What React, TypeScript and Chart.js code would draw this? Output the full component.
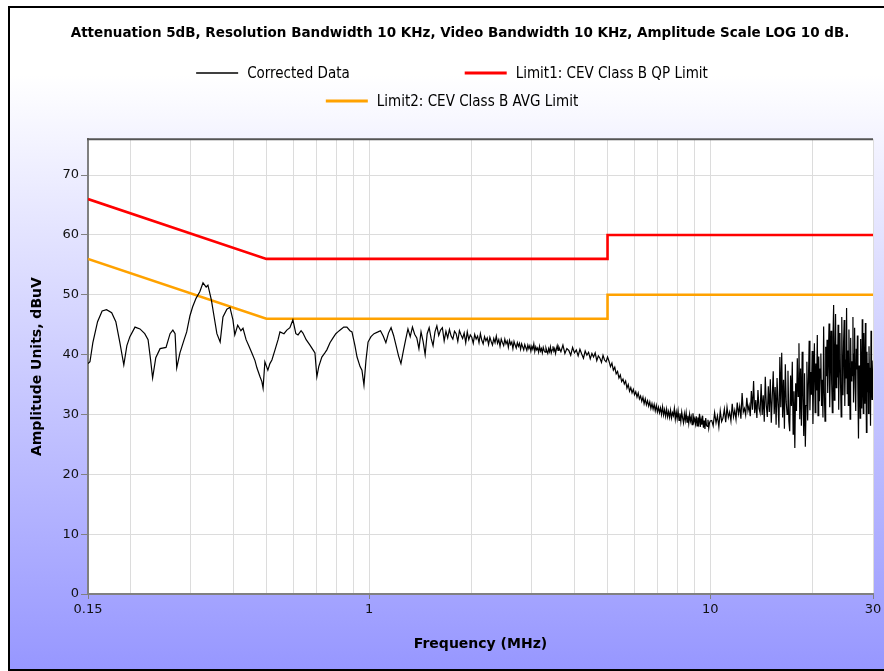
import React, { useEffect, useRef } from 'react';
import { Chart, registerables } from 'chart.js';

Chart.register(...registerables);

const titleText =
  'Attenuation 5dB, Resolution Bandwidth 10 KHz, Video Bandwidth 10 KHz, Amplitude Scale LOG 10 dB.';
const xAxisTitle = 'Frequency (MHz)';
const yAxisTitle = 'Amplitude Units, dBuV';
const seriesNames = ['Corrected Data', 'Limit1: CEV Class B QP Limit', 'Limit2: CEV Class B AVG Limit'];

const xGridMHz = [0.15, 0.2, 0.3, 0.4, 0.5, 0.6, 0.7, 0.8, 0.9, 1, 2, 3, 4, 5, 6, 7, 8, 9, 10, 20, 30];
const xLabelMHz = [0.15, 1, 10, 30];
const yMin = 0;
const yMax = 76;
const yStep = 10;

// Corrected data, low band 0.15 .. 1.06 MHz
const lowFreqMHz = [
  0.15, 0.152, 0.155, 0.16, 0.165, 0.17, 0.176, 0.181, 0.186, 0.191,
  0.195, 0.199, 0.206, 0.213, 0.22, 0.225, 0.229, 0.232, 0.237, 0.244,
  0.254, 0.261, 0.266, 0.27, 0.273, 0.279, 0.287, 0.292, 0.2985, 0.304,
  0.311, 0.319, 0.326, 0.333, 0.337, 0.345, 0.351, 0.358, 0.366, 0.373,
  0.383, 0.391, 0.399, 0.404, 0.412, 0.421, 0.427, 0.436, 0.444, 0.453,
  0.463, 0.469, 0.479, 0.485, 0.489, 0.495, 0.505, 0.512, 0.519, 0.53,
  0.541, 0.548, 0.563, 0.574, 0.586, 0.598, 0.61, 0.619, 0.632, 0.64,
  0.654, 0.671, 0.685, 0.694, 0.703, 0.712, 0.727, 0.742, 0.752, 0.768,
  0.784, 0.799, 0.81, 0.826, 0.843, 0.861, 0.879, 0.891, 0.909, 0.922,
  0.941, 0.953, 0.966, 0.979, 0.993, 1.013, 1.034, 1.062,
];
const lowDbuV = [
  38.5, 38.8, 42.0, 45.5, 47.3, 47.5, 47.0, 45.5, 42.0, 38.3,
  41.5, 43.0, 44.6, 44.3, 43.5, 42.5, 39.0, 36.1, 39.5, 41.0,
  41.2, 43.5, 44.1, 43.5, 37.8, 40.3, 42.5, 43.8, 46.5, 48.0,
  49.4, 50.5, 52.0, 51.3, 51.6, 49.1, 46.5, 43.5, 42.1, 46.3,
  47.6, 47.9, 45.8, 43.3, 44.9, 44.0, 44.4, 42.5, 41.5, 40.3,
  39.0, 37.8, 36.3, 35.5, 34.4, 38.8, 37.4, 38.5, 39.1, 40.8,
  42.5, 43.8, 43.5, 44.1, 44.5, 45.8, 43.5, 43.3, 44.0, 43.6,
  42.5, 41.6, 40.8, 40.3, 36.3, 38.0, 39.6, 40.3, 40.8, 42.0,
  42.8, 43.5, 43.8, 44.2, 44.6, 44.6, 44.0, 43.8, 41.5, 39.6,
  38.0, 37.4, 34.9, 39.0, 42.1, 43.0, 43.5, 43.8,
];

// Corrected data, sweep 1.08 .. 3.58 MHz, 0.02 MHz steps
const band2StartMHz = 1.08;
const band2StepMHz = 0.02;
const band2DbuV = [
  44.0, 43.1, 42.0, 43.6, 44.5, 43.2, 41.5, 39.8, 38.5, 40.6,
  42.5, 44.3, 43.0, 44.6, 43.4, 42.8, 41.0, 43.8, 42.2, 40.0,
  43.5, 44.5, 42.7, 41.5, 43.8, 44.8, 43.2, 44.1, 44.5, 42.3,
  43.9, 42.8, 44.2, 43.1, 42.6, 43.9, 43.5, 42.2, 44.0, 43.3,
  42.7, 43.6, 42.0, 43.8, 42.5, 43.3, 42.9, 41.9, 43.4, 42.6,
  43.1, 42.0, 43.5, 42.4, 41.8, 43.0, 42.3, 42.8, 41.7, 42.9,
  42.2, 41.6, 42.7, 42.0, 43.1, 41.9, 42.5, 41.4, 42.6, 42.0,
  41.5, 42.6, 41.8, 42.3, 41.2, 42.4, 41.7, 42.1, 41.0, 42.2,
  41.6, 41.1, 42.0, 41.4, 41.9, 40.9, 41.8, 41.3, 40.8, 41.7,
  41.2, 40.7, 41.6, 41.0, 41.5, 40.6, 41.4, 40.9, 41.8, 40.5,
  41.3, 40.8, 41.1, 40.4, 41.4, 40.6, 41.0, 40.3, 41.2, 40.7,
  40.4, 41.1, 40.6, 40.2, 41.0, 40.5, 41.3, 40.3, 40.8, 41.4,
  40.6, 41.0, 40.2, 40.9, 41.5, 40.7,
];

// Corrected data, sweep 3.6 .. 10 MHz, 0.05 MHz steps
const midStartMHz = 3.6;
const midStepMHz = 0.05;
const midDbuV = [
  41.3, 40.5, 41.6, 40.2, 41.0, 40.7, 39.9, 41.2, 40.3, 40.8,
  39.8, 40.9, 40.1, 39.4, 40.6, 39.9, 40.4, 39.3, 40.2, 39.6,
  40.3, 39.0, 39.8, 39.4, 38.7, 39.9, 39.1, 38.8, 39.6, 38.9,
  38.0, 38.6, 37.4, 37.9, 36.8, 37.2, 36.1, 36.6, 35.5, 35.9,
  35.1, 35.6, 34.4, 35.0, 33.9, 34.5, 33.6, 34.2, 33.3, 33.8,
  32.9, 33.6, 32.6, 33.1, 32.2, 32.9, 31.8, 32.6, 31.6, 32.3,
  31.4, 32.1, 31.0, 31.8, 30.9, 31.7, 30.6, 31.5, 30.4, 31.2,
  30.3, 31.1, 30.0, 31.3, 29.9, 30.8, 29.7, 30.9, 29.6, 30.5,
  29.5, 30.7, 29.4, 30.3, 29.8, 31.0, 29.2, 30.4, 29.3, 30.6,
  29.0, 30.2, 28.8, 30.4, 29.4, 28.6, 30.1, 29.0, 30.3, 28.7,
  29.8, 28.5, 30.0, 28.9, 29.6, 28.3, 30.2, 28.8, 29.3, 28.4,
  29.7, 28.1, 29.5, 28.6, 30.1, 27.9, 29.2, 28.3, 29.8, 27.8,
  29.0, 27.6, 29.4, 28.2, 28.0, 29.1, 27.7, 28.6, 28.9,
];

// Corrected data, sweep 10.1 .. 30 MHz, 0.1 MHz steps
const highStartMHz = 10.1;
const highStepMHz = 0.1;
const highDbuV = [
  29.0, 28.1, 30.3, 28.6, 29.8, 27.9, 30.6, 28.8, 29.4, 30.9,
  28.7, 31.2, 29.5, 30.4, 28.9, 31.8, 29.6, 30.7, 29.2, 32.0,
  30.1, 31.4, 29.3, 33.6, 30.4, 31.0, 29.9, 32.8, 30.6, 31.5,
  29.7, 33.9, 30.8, 35.6, 30.2, 32.4, 29.4, 34.1, 31.0, 30.3,
  35.1, 29.9, 33.2, 28.8, 36.3, 31.5, 29.6, 34.7, 30.4, 35.9,
  28.6, 33.0, 37.2, 30.1, 34.6, 28.3, 36.1, 31.7, 27.8, 39.6,
  31.2, 40.3, 29.5, 35.8, 27.6, 38.4, 32.1, 30.0, 37.3, 28.9,
  27.2, 36.5, 31.4, 38.8, 26.7, 33.9, 24.4, 35.2, 30.6, 39.4,
  33.0, 41.9, 29.2, 37.7, 28.1, 40.5, 32.6, 26.4, 36.9, 24.6,
  31.5, 38.8, 29.0, 35.4, 42.3, 30.7, 37.1, 33.3, 40.6, 28.4,
  36.2, 41.9, 30.3, 38.5, 34.0, 43.3, 29.8, 39.7, 32.2, 37.6,
  40.2, 31.4, 35.8, 29.5, 44.7, 33.7, 28.9, 41.3, 36.4, 42.5,
  33.6, 39.9, 45.2, 31.2, 37.4, 44.0, 35.1, 30.3, 42.8, 48.3,
  32.4, 39.5, 46.8, 34.5, 41.7, 36.2, 45.0, 30.8, 38.9, 43.6,
  35.0, 29.6, 46.3, 37.8, 33.2, 42.1, 45.8, 31.4, 39.2, 36.0,
  47.8, 33.5, 40.7, 31.5, 44.2, 37.0, 29.2, 42.8, 35.6, 38.9,
  36.5, 46.3, 32.0, 40.1, 44.5, 34.4, 30.6, 41.0, 37.5, 43.2,
  33.1, 26.0, 38.2, 35.2, 29.4, 42.6, 36.4, 31.0, 45.9, 34.8,
  30.2, 43.6, 37.3, 31.8, 45.3, 35.5, 27.0, 40.5, 33.8, 38.6,
  30.2, 41.4, 35.9, 37.8, 28.1, 44.0, 34.0, 32.5, 36.4, 39.0,
];

// Limits
const qpFreqMHz = [0.15, 0.5, 5, 5, 30];
const qpDbuV = [66, 56, 56, 60, 60];
const avgFreqMHz = [0.15, 0.5, 5, 5, 30];
const avgDbuV = [56, 46, 46, 50, 50];

const tickFont = { family: '"DejaVu Sans", Verdana, sans-serif', size: 13 };
const axisTitleFont = { family: '"DejaVu Sans", Verdana, sans-serif', size: 14, weight: 'bold' as const };

function sweep(start: number, step: number, values: number[]) {
  return values.map((v, i) => ({ x: +(start + i * step).toFixed(3), y: v }));
}

function buildCorrected() {
  const pts: { x: number; y: number }[] = [];
  lowFreqMHz.forEach((f, i) => pts.push({ x: f, y: lowDbuV[i] }));
  pts.push(...sweep(band2StartMHz, band2StepMHz, band2DbuV));
  pts.push(...sweep(midStartMHz, midStepMHz, midDbuV));
  pts.push(...sweep(highStartMHz, highStepMHz, highDbuV));
  return pts;
}

const plotAreaPlugin = {
  id: 'plotArea',
  beforeDraw(chart: any) {
    const { ctx, chartArea } = chart;
    const { left, top, right, bottom } = chartArea;
    ctx.save();
    ctx.fillStyle = '#ffffff';
    ctx.fillRect(left, top, right - left, bottom - top);
    ctx.restore();
  },
  afterDraw(chart: any) {
    const { ctx, chartArea } = chart;
    const { left, top, right } = chartArea;
    ctx.save();
    ctx.strokeStyle = '#555555';
    ctx.lineWidth = 2;
    ctx.beginPath();
    ctx.moveTo(left - 1, top);
    ctx.lineTo(right, top);
    ctx.stroke();
    ctx.restore();
  },
};

const legendRows = [[0, 1], [2]];
const rowLegendPlugin = {
  id: 'rowLegend',
  afterDraw(chart: any) {
    const ctx = chart.ctx;
    ctx.save();
    ctx.font = '15px "Liberation Sans Narrow", "DejaVu Sans Condensed", Arial, sans-serif';
    ctx.textBaseline = 'middle';
    const lineLen = 42;
    const textGap = 9;
    const itemGap = 115;
    const rowY = [65, 93];
    const centerX = chart.width / 2 - 8;
    legendRows.forEach((row, r) => {
      const widths = row.map(
        (i) => lineLen + textGap + ctx.measureText(chart.data.datasets[i].label).width
      );
      const total = widths.reduce((a, b) => a + b, 0) + itemGap * (row.length - 1);
      let x = centerX - total / 2;
      row.forEach((i, k) => {
        const ds = chart.data.datasets[i];
        ctx.strokeStyle = ds.borderColor;
        ctx.lineWidth = i === 0 ? 1.3 : 3;
        ctx.beginPath();
        ctx.moveTo(x, rowY[r]);
        ctx.lineTo(x + lineLen, rowY[r]);
        ctx.stroke();
        ctx.fillStyle = '#000000';
        ctx.fillText(ds.label, x + lineLen + textGap, rowY[r] + 1);
        x += widths[k] + itemGap;
      });
    });
    ctx.restore();
  },
};

export default function App() {
  const canvasRef = useRef<HTMLCanvasElement | null>(null);

  useEffect(() => {
    if (!canvasRef.current) return;
    const chart = new Chart(canvasRef.current, {
      type: 'line',
      data: {
        datasets: [
          {
            label: seriesNames[0],
            data: buildCorrected(),
            borderColor: '#000000',
            borderWidth: 1.2,
            pointRadius: 0,
            tension: 0,
            order: 0,
          },
          {
            label: seriesNames[1],
            data: qpFreqMHz.map((f, i) => ({ x: f, y: qpDbuV[i] })),
            borderColor: '#ff0000',
            borderWidth: 2.6,
            pointRadius: 0,
            tension: 0,
            order: 1,
          },
          {
            label: seriesNames[2],
            data: avgFreqMHz.map((f, i) => ({ x: f, y: avgDbuV[i] })),
            borderColor: '#ffa200',
            borderWidth: 2.6,
            pointRadius: 0,
            tension: 0,
            order: 2,
          },
        ],
      },
      options: {
        animation: false,
        responsive: true,
        maintainAspectRatio: false,
        layout: { padding: 0 },
        plugins: {
          legend: { display: false },
          tooltip: { enabled: false },
          title: {
            display: true,
            text: titleText,
            color: '#000000',
            font: { family: '"DejaVu Sans", Verdana, sans-serif', size: 13.5, weight: 'bold' },
            padding: { top: 17, bottom: 98 },
          },
        },
        scales: {
          x: {
            type: 'logarithmic',
            min: 0.15,
            max: 30,
            afterBuildTicks: (s: any) => {
              s.ticks = xGridMHz.map((v) => ({ value: v }));
            },
            afterFit: (s: any) => {
              s.height = 75;
            },
            ticks: {
              autoSkip: false,
              maxRotation: 0,
              minRotation: 0,
              padding: 3,
              color: '#111111',
              font: tickFont,
              callback: (v: any) => (xLabelMHz.includes(Number(v)) ? String(v) : ''),
            },
            grid: {
              color: '#dcdcdc',
              lineWidth: 1,
              tickLength: 5,
              tickColor: (c: any) =>
                c.tick && xLabelMHz.includes(c.tick.value) ? '#808080' : 'rgba(0,0,0,0)',
            },
            border: { color: '#808080', width: 2 },
            title: {
              display: true,
              text: xAxisTitle,
              color: '#000000',
              font: axisTitleFont,
              padding: { top: 0, bottom: 16 },
            },
          },
          y: {
            type: 'linear',
            position: 'left',
            min: yMin,
            max: yMax,
            afterFit: (s: any) => {
              s.width = 78;
            },
            ticks: {
              stepSize: yStep,
              includeBounds: false,
              padding: 2,
              color: '#111111',
              font: tickFont,
            },
            grid: { color: '#dcdcdc', lineWidth: 1, tickLength: 7, tickColor: '#808080' },
            border: { color: '#808080', width: 2 },
            title: {
              display: true,
              text: yAxisTitle,
              color: '#000000',
              font: axisTitleFont,
              padding: { top: 19, bottom: 0 },
            },
          },
          yRightSpace: {
            type: 'linear',
            position: 'right',
            afterFit: (s: any) => {
              s.width = 37;
            },
            ticks: { display: false },
            grid: { display: false, drawTicks: false },
            border: { display: false },
          },
        },
      } as any,
      plugins: [plotAreaPlugin, rowLegendPlugin],
    });
    return () => chart.destroy();
  }, []);

  return (
    <div style={{ position: 'fixed', left: 0, top: 0, width: '100%', height: '100%', overflow: 'hidden', background: '#ffffff' }}>
      <div
        style={{
          position: 'absolute',
          left: 8,
          top: 6,
          width: 902,
          height: 665,
          boxSizing: 'border-box',
          borderLeft: '2px solid #000000',
          borderTop: '2px solid #000000',
          borderBottom: '2px solid #000000',
        }}
      >
        <div
          style={{
            position: 'relative',
            width: 900,
            height: 661,
            background: 'linear-gradient(to bottom, #ffffff 0px, #ffffff 67px, #9797ff 100%)',
          }}
        >
          <canvas ref={canvasRef} />
        </div>
      </div>
    </div>
  );
}
